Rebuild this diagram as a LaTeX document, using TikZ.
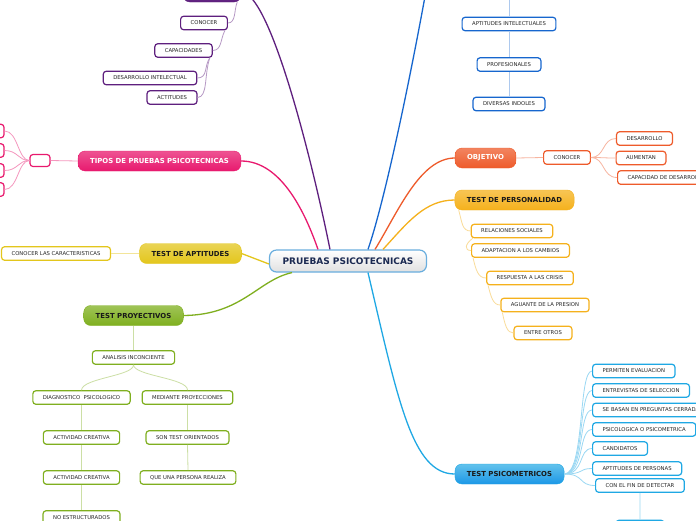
\documentclass[tikz,border=0pt]{standalone}
\usepackage{fontspec}
\setmainfont{DejaVu Sans}
\usetikzlibrary{positioning}
\usetikzlibrary{shapes, backgrounds, calc}

\definecolor{purp}{HTML}{5E1F7E}
\definecolor{pinkc}{HTML}{E8196E}
\definecolor{yell}{HTML}{E3C61C}
\definecolor{grn}{HTML}{7FAF1F}
\definecolor{blu}{HTML}{1666CE}
\definecolor{orng}{HTML}{EE5B2B}
\definecolor{ambr}{HTML}{F5B11C}
\definecolor{sky}{HTML}{1FA8E4}
\definecolor{cborder}{HTML}{6AAEDE}
\definecolor{navy}{HTML}{1B2A52}

\begin{document}
\begin{tikzpicture}[x=1pt, y=-1pt, font=\fontsize{5.3}{6}\selectfont]%

            \tikzstyle{leaf} = [ rectangle, rounded corners = 3pt, line width = 1.2pt, fill = white, text = black!85, minimum height = 13.5pt, inner xsep = 10pt, inner ysep = 0pt]
            \tikzstyle{topic} = [ rectangle, rounded corners = 7pt, minimum height = 20pt, inner xsep = 12pt, inner ysep = 0pt, font = \fontsize{6.9}{8}\selectfont\bfseries]
            \tikzstyle{branch} = [ line width = 1.3pt]
            \tikzstyle{twig} = [ line width = 0.8pt]
        %%
            \fill[white] (0,0) rectangle (696,520);
            \clip (0,0) rectangle (696,520);

                %% Centre
                \node [topic, draw = cborder, line width = 1.2pt, top color = white, bottom color = black!12, text = navy, inner xsep = 13pt, minimum height = 22pt, font = \fontsize{9}{10}\selectfont\bfseries] (centre) at (348,261) {PRUEBAS PSICOTECNICAS};

                %% Purple branch
                \node [topic, draw = purp, top color = purp!80, bottom color = purp, minimum width = 58pt] (purp_top) at (212,-8) {};
                \node [leaf, draw = purp] (p_conocer) at (204,23) {CONOCER};
                \node [leaf, draw = purp] (p_capac) at (183.5,50.5) {CAPACIDADES};
                \node [leaf, draw = purp] (p_desarr) at (150,78) {DESARROLLO INTELECTUAL};
                \node [leaf, draw = purp] (p_actit) at (172,97.5) {ACTITUDES};

                \draw[branch, purp] ([xshift=-18pt]centre.north) .. controls (312,160) and (270,-8) .. (purp_top.east);
                \draw[twig, purp!45] ([xshift=-4pt]purp_top.south east) .. controls (234,10) and (236,23) .. (p_conocer.east);
                \draw[twig, purp!45] ([xshift=-3pt]p_conocer.south east) .. controls (220,40) and (222,50) .. (p_capac.east);
                \draw[twig, purp!45] ([xshift=-3pt]p_capac.south east) .. controls (204,66) and (208,78) .. (p_desarr.east);
                \draw[twig, purp!45] ([xshift=-3pt]p_capac.south east) .. controls (204,75) and (208,97) .. (p_actit.east);

                %% Pink branch
                \node [topic, draw = pinkc, top color = pinkc!75, bottom color = pinkc, text = white] (tipos) at (159.5,161) {TIPOS DE PRUEBAS PSICOTECNICAS};
                \node [leaf, draw = pinkc, minimum width = 18pt, minimum height = 12pt] (t_hub) at (40,160.5) {};
                \node [leaf, draw = pinkc, minimum width = 24pt] (t_a) at (-8,131) {};
                \node [leaf, draw = pinkc, minimum width = 24pt] (t_b) at (-8,150.5) {};
                \node [leaf, draw = pinkc, minimum width = 24pt] (t_c) at (-8,170.5) {};
                \node [leaf, draw = pinkc, minimum width = 24pt] (t_d) at (-8,189.5) {};

                \draw[branch, pinkc] ([xshift=-30pt]centre.north) .. controls (306,215) and (282,161) .. (tipos.east);
                \draw[twig, pinkc!45] (tipos.west) -- (t_hub.east);
                \foreach \leafname in {t_a, t_b, t_c, t_d}
                    \draw[twig, pinkc!45] (t_hub.west) .. controls (18,160.5) and (18,0 |- \leafname.east) .. (\leafname.east);

                %% Yellow branch
                \node [topic, draw = yell, top color = yell!75, bottom color = yell, text = black!90] (aptit) at (190.5,253.5) {TEST DE APTITUDES};
                \node [leaf, draw = yell] (a_conocer) at (56,253.5) {CONOCER LAS CARACTERISTICAS};

                \draw[branch, yell] (aptit.east) -- ([yshift=-3pt]centre.west);
                \draw[twig, yell!45] (a_conocer.east) -- (aptit.west);

                %% Green branch
                \node [topic, draw = grn, top color = grn!75, bottom color = grn, text = black!90] (proyect) at (133.5,315.5) {TEST PROYECTIVOS};
                \node [leaf, draw = grn] (g_analisis) at (133.5,357.5) {ANALISIS INCONCIENTE};
                \node [leaf, draw = grn] (g_diagn) at (81.5,397.5) {DIAGNOSTICO\ \ PSICOLOGICO};
                \node [leaf, draw = grn] (g_median) at (187.5,397.5) {MEDIANTE PROYECCIONES};
                \node [leaf, draw = grn] (g_activ1) at (81.5,437.5) {ACTIVIDAD CREATIVA};
                \node [leaf, draw = grn] (g_activ2) at (81.5,477.5) {ACTIVIDAD CREATIVA};
                \node [leaf, draw = grn] (g_noestr) at (81.5,517.5) {NO ESTRUCTURADOS};
                \node [leaf, draw = grn] (g_sontest) at (187.5,437.5) {SON TEST ORIENTADOS};
                \node [leaf, draw = grn] (g_quepers) at (188,477.5) {QUE UNA PERSONA REALIZA};

                \draw[branch, grn] (proyect.east) .. controls (242,315) and (258,280) .. ([xshift=-56pt]centre.south);
                \draw[twig, grn!40] (proyect.south) -- (g_analisis.north);
                \draw[twig, grn!40] (g_analisis.south) .. controls (134,376) and (82,378) .. (g_diagn.north);
                \draw[twig, grn!40] (g_analisis.south) .. controls (134,376) and (188,378) .. (g_median.north);
                \draw[twig, grn!40] (g_diagn.south) -- (g_activ1.north);
                \draw[twig, grn!40] (g_activ1.south) -- (g_activ2.north);
                \draw[twig, grn!40] (g_activ2.south) -- (g_noestr.north);
                \draw[twig, grn!40] (g_median.south) -- (g_sontest.north);
                \draw[twig, grn!40] (g_sontest.south) -- (g_quepers.north);

                %% Blue branch (top)
                \coordinate (blu_top) at (428,-20);
                \coordinate (blu_stem) at (509,-10);
                \node [leaf, draw = blu] (b_aptit) at (509,24) {APTITUDES INTELECTUALES};
                \node [leaf, draw = blu] (b_profes) at (509,64.5) {PROFESIONALES};
                \node [leaf, draw = blu] (b_divers) at (509,104) {DIVERSAS INDOLES};

                \draw[branch, blu] ([xshift=20pt]centre.north) .. controls (385,200) and (410,80) .. (blu_top);
                \draw[twig, blu!35] (blu_stem) -- (b_aptit.north);
                \draw[twig, blu!35] (b_aptit.south) -- (b_profes.north);
                \draw[twig, blu!35] (b_profes.south) -- (b_divers.north);

                %% Orange branch
                \node [topic, draw = orng, top color = orng!75, bottom color = orng, text = white] (objet) at (485.5,158) {OBJETIVO};
                \node [leaf, draw = orng] (o_conocer) at (567,157.5) {CONOCER};
                \node [leaf, draw = orng] (o_desarr) at (644.5,138.5) {DESARROLLO};
                \node [leaf, draw = orng] (o_aument) at (641,158) {AUMENTAN};
                \node [leaf, draw = orng, anchor = west] (o_capac) at (617,177.5) {CAPACIDAD DE DESARROLLO};

                \draw[branch, orng] ([xshift=27pt]centre.north) .. controls (398,212) and (420,158) .. (objet.west);
                \draw[twig, orng!45] (objet.east) -- (o_conocer.west);
                \foreach \leafname in {o_desarr, o_aument, o_capac}
                    \draw[twig, orng!45] (o_conocer.east) .. controls (605,157.5) and (602,0 |- \leafname.west) .. (\leafname.west);

                %% Amber branch
                \node [topic, draw = ambr, top color = ambr!75, bottom color = ambr, text = black!90] (person) at (514.5,200) {TEST DE PERSONALIDAD};
                \node [leaf, draw = ambr] (y_relac) at (512,231) {RELACIONES SOCIALES};
                \node [leaf, draw = ambr] (y_adapt) at (520.5,250.5) {ADAPTACION A LOS CAMBIOS};
                \node [leaf, draw = ambr] (y_respu) at (530,278) {RESPUESTA A LAS CRISIS};
                \node [leaf, draw = ambr] (y_aguan) at (545,305) {AGUANTE DE LA PRESION};
                \node [leaf, draw = ambr] (y_entre) at (543,333) {ENTRE OTROS};

                \draw[branch, ambr] ([xshift=35pt]centre.north) .. controls (408,222) and (425,200) .. (person.west);
                \draw[twig, ambr!45] ([xshift=4pt]person.south west) .. controls (462,222) and (462,231) .. (y_relac.west);
                \draw[twig, ambr!45] ([xshift=2pt]y_relac.south west) .. controls (465,244) and (464,250.5) .. (y_adapt.west);
                \draw[twig, ambr!45] ([xshift=2pt]y_adapt.south west) .. controls (476,270) and (478,278) .. (y_respu.west);
                \draw[twig, ambr!45] ([xshift=2pt]y_respu.south west) .. controls (491,297) and (493,305) .. (y_aguan.west);
                \draw[twig, ambr!45] ([xshift=2pt]y_aguan.south west) .. controls (505,325) and (507,333) .. (y_entre.west);

                %% Sky branch
                \node [topic, draw = sky, top color = sky!70, bottom color = sky!90!blue, text = black!90] (psicom) at (509.5,474) {TEST PSICOMETRICOS};
                \node [leaf, draw = sky, anchor = west] (s_permit) at (592,371) {PERMITEN EVALUACION};
                \node [leaf, draw = sky, anchor = west] (s_entrev) at (592,390.5) {ENTREVISTAS DE SELECCION};
                \node [leaf, draw = sky, anchor = west] (s_basan) at (592,410) {SE BASAN EN PREGUNTAS CERRADAS};
                \node [leaf, draw = sky, anchor = west] (s_psicol) at (592,429.5) {PSICOLOGICA O PSICOMETRICA};
                \node [leaf, draw = sky, anchor = west] (s_candid) at (592,448.5) {CANDIDATOS};
                \node [leaf, draw = sky, anchor = west] (s_aptit) at (592,468.5) {APTITUDES DE PERSONAS};
                \node [leaf, draw = sky, anchor = west] (s_confin) at (595,485.5) {CON EL FIN DE DETECTAR};
                \node [leaf, draw = sky, minimum width = 48pt] (s_bottom) at (640,527) {};

                \draw[branch, sky] ([xshift=20pt]centre.south) .. controls (398,400) and (412,474) .. (psicom.west);
                \foreach \leafname in {s_permit, s_entrev, s_basan, s_psicol, s_candid, s_aptit, s_confin}
                    \draw[twig, sky!45] (psicom.east) .. controls (585,474) and (578,0 |- \leafname.west) .. (\leafname.west);
                \draw[twig, sky!45] (s_confin.south) -- (s_bottom.north);

        \end{tikzpicture}
\end{document}
